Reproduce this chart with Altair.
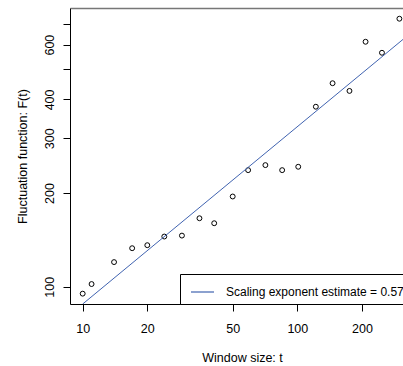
import altair as alt
import pandas as pd

# ---- data ----
window = [10, 11, 14, 17, 20, 24, 29, 35, 41, 50, 59, 71, 85, 101, 122, 146, 175, 208, 248, 299]
fluct = [95, 102, 120, 133, 136, 145, 146, 166, 160, 195, 237, 246, 237, 243, 379, 451, 426, 613, 565, 727]
fit_window = [10, 311]
fit_fluct = [88, 624]
legend_label = "Scaling exponent estimate = 0.57"
x_ticks = [10, 20, 50, 100, 200]
y_ticks = [100, 200, 300, 400, 500, 600, 700]
y_labels = [100, 200, 300, 400, 600]
x_domain = [8.727, 310.8]
y_domain = [88.0, 787.0]

FONT = "Liberation Sans"
FS = 12.5

pts = pd.DataFrame({"t": window, "F": fluct})
fit = pd.DataFrame({"t": fit_window, "F": fit_fluct, "series": [legend_label] * len(fit_window)})

xscale = alt.Scale(type="log", domain=x_domain, nice=False)
yscale = alt.Scale(type="log", domain=y_domain, nice=False)

label_expr = "indexof(" + str(y_labels) + ", datum.value) >= 0 ? datum.label : ''"

x_axis = alt.Axis(values=x_ticks, format="d", grid=False, tickSize=7, tickColor="black",
                  domainColor="black", labelColor="black", labelFont=FONT, labelFontSize=FS,
                  labelPadding=11, labelOverlap=False, title="Window size: t",
                  titleFont=FONT, titleFontSize=FS, titleFontWeight="normal", titleColor="black",
                  titleBaseline="alphabetic", titleY=57, titleX=172)
y_axis = alt.Axis(values=y_ticks, format="d", labelExpr=label_expr, grid=False, tickSize=7,
                  tickColor="black", domainColor="black", labelColor="black", labelFont=FONT,
                  labelFontSize=FS, labelAngle=-90, labelAlign="center", labelBaseline="alphabetic",
                  labelPadding=9.5, labelOverlap=False, title="Fluctuation function: F(t)",
                  titleFont=FONT, titleFontSize=FS, titleFontWeight="normal", titleColor="black",
                  titleAngle=270, titleBaseline="alphabetic", titleX=-43.5, titleY=148)

points = alt.Chart(pts).mark_point(shape="circle", filled=False, size=24, strokeWidth=1,
                                   color="black", opacity=1).encode(
    x=alt.X("t:Q", scale=xscale, axis=x_axis),
    y=alt.Y("F:Q", scale=yscale, axis=y_axis),
)

line = alt.Chart(fit).mark_line(strokeWidth=1, clip=True).encode(
    x=alt.X("t:Q", scale=xscale, axis=None),
    y=alt.Y("F:Q", scale=yscale, axis=y_axis),
    color=alt.Color("series:N", scale=alt.Scale(range=["#4063B0"]),
                    legend=alt.Legend(title=None, orient="none", legendX=110, legendY=266,
                                      symbolType="stroke", symbolSize=529, symbolStrokeWidth=1.2,
                                      strokeColor="black", fillColor="white", padding=5.5,
                                      symbolOffset=4.5, labelOffset=11,
                                      labelFont=FONT, labelFontSize=12, labelColor="black",
                                      labelLimit=0)),
)

top = alt.Chart(pts).mark_point(opacity=0).encode(
    x=alt.X("t:Q", scale=xscale, axis=alt.Axis(orient="top", labels=False, ticks=False,
                                                title=None, grid=False, domainColor="#777777",
                                                domainWidth=1.5)),
    y=alt.Y("F:Q", scale=yscale, axis=y_axis),
)

chart = alt.layer(points, line, top).resolve_axis(x="independent").properties(
    width=333, height=296,
    autosize=alt.AutoSizeParams(type="none"),
    padding={"left": 70, "top": 8, "right": 0, "bottom": 62},
    background="white",
).configure_view(stroke=None)

chart.save("out.html", embed_options={"renderer": "svg", "actions": False})
